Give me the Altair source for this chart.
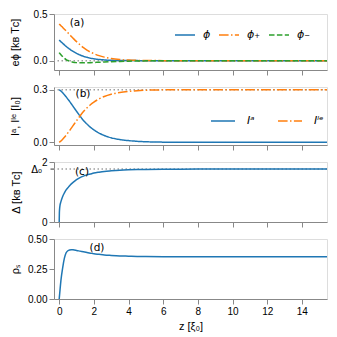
import altair as alt
import pandas as pd

# ---------------- data ----------------
z = [0, 0.01, 0.03, 0.05, 0.1, 0.2, 0.3, 0.4, 0.5, 0.6, 0.7, 0.8,
     1.0, 1.2, 1.4, 1.6, 1.8, 2.0,
     2.3, 2.6, 3.0, 3.5, 4.0, 4.5, 5.0,
     6.0, 7.0, 8.0, 10.0, 12.0, 14.0, 15.5]

phi = [0.221, 0.219, 0.215, 0.212, 0.203, 0.186, 0.169, 0.153, 0.138, 0.124, 0.111, 0.099,
       0.078, 0.061, 0.047, 0.036, 0.027, 0.020,
       0.013, 0.008, 0.004, 0.002, 0.001, 0.0005, 0.0002,
       0.0001, 0, 0, 0, 0, 0, 0]
phi_plus = [0.393, 0.391, 0.387, 0.384, 0.375, 0.356, 0.337, 0.318, 0.298, 0.279, 0.260, 0.241,
            0.204, 0.170, 0.139, 0.113, 0.092, 0.075,
            0.054, 0.038, 0.023, 0.012, 0.006, 0.003, 0.0015,
            0.0004, 0.0001, 0, 0, 0, 0, 0]
phi_minus = [0.087, 0.084, 0.079, 0.075, 0.064, 0.044, 0.026, 0.012, 0.002, -0.006, -0.012, -0.016,
             -0.021, -0.023, -0.023, -0.022, -0.021, -0.019,
             -0.017, -0.014, -0.011, -0.008, -0.005, -0.003, -0.002,
             -0.001, -0.0005, 0, 0, 0, 0, 0]

I_a = [0.300, 0.299, 0.297, 0.296, 0.292, 0.282, 0.271, 0.259, 0.246, 0.233, 0.219, 0.205,
       0.177, 0.150, 0.125, 0.104, 0.086, 0.071,
       0.053, 0.039, 0.026, 0.016, 0.010, 0.006, 0.0035,
       0.0012, 0.0004, 0.0001, 0, 0, 0, 0]
I_total = 0.3
I_le = [round(I_total - v, 5) for v in I_a]

Delta = [0, 0.30, 0.48, 0.57, 0.68, 0.85, 0.97, 1.07, 1.14, 1.21, 1.27, 1.32,
         1.41, 1.48, 1.53, 1.57, 1.60, 1.63,
         1.66, 1.685, 1.705, 1.725, 1.738, 1.747, 1.752,
         1.758, 1.761, 1.763, 1.764, 1.764, 1.764, 1.764]
Delta0 = 1.764

rho_s = [0, 0.016, 0.048, 0.08, 0.155, 0.26, 0.34, 0.385, 0.402, 0.409, 0.411, 0.410,
         0.405, 0.399, 0.393, 0.387, 0.382, 0.377,
         0.372, 0.367, 0.363, 0.359, 0.357, 0.355, 0.354,
         0.353, 0.352, 0.352, 0.352, 0.352, 0.352, 0.352]

phi_names = ["ϕ", "ϕ₊", "ϕ₋"]
I_names = ["Iᵃ", "Iˡᵉ"]
x_ticks = [0, 2, 4, 6, 8, 10, 12, 14]
delta_ticks = [0, 1, 2]
panel_labels = ["(a)", "(b)", "(c)", "(d)"]
delta0_label = "Δ₀"

# ---------------- style ----------------
FONT = "DejaVu Sans"
BLUE, ORANGE, GREEN = "#1f77b4", "#ff7f0e", "#2ca02c"
SOLID = [1, 0]
DASHDOT = [9.6, 2.4, 1.5, 2.4]
DASHED = [5.5, 2.4]
DOTTED = [1.5, 2.5]
W = 273
XDOM = [-0.3, 15.45]
TX = -39


def xenc(show):
    sc = alt.Scale(domain=XDOM, nice=False, zero=False)
    if show:
        ax = alt.Axis(values=x_ticks, format="d", title="z [ξ₀]", titleFontWeight="normal", grid=False)
    else:
        ax = alt.Axis(values=x_ticks, labels=False, title=None, grid=False)
    return alt.X("z:Q", scale=sc, axis=ax)


def yaxis(values, fmt, title, tx, **kw):
    return alt.Axis(values=values, format=fmt, title=title, titleFontWeight="normal", grid=False,
                    titleX=tx, titleBaseline="middle", labelOverlap=False, **kw)


def ref_rule(val):
    return alt.Chart(pd.DataFrame({"y": [val]})).mark_rule(
        color="#a0a0a0", strokeDash=DOTTED, strokeWidth=1.5
    ).encode(y="y:Q")


def label(txt, px, py):
    return alt.Chart(pd.DataFrame({"t": [txt]})).mark_text(
        font=FONT, fontSize=10.5, color="black"
    ).encode(text="t:N", x=alt.value(px), y=alt.value(py))


# panel (a)
df_a = pd.DataFrame({
    "z": z * 3,
    "v": phi + phi_plus + phi_minus,
    "s": [phi_names[0]] * len(z) + [phi_names[1]] * len(z) + [phi_names[2]] * len(z),
})
leg_a = alt.Legend(orient="none", legendX=120, legendY=10, direction="horizontal", title=None,
                   symbolType="stroke", symbolSize=400, symbolStrokeWidth=1.5,
                   labelFont=FONT, labelFontSize=11, labelFontStyle="italic",
                   labelOffset=7, columnPadding=5, gridAlign="none", labelColor="black")
lines_a = alt.Chart(df_a).mark_line(strokeWidth=1.5, interpolate="monotone", clip=True).encode(
    x=xenc(False),
    y=alt.Y("v:Q", scale=alt.Scale(domain=[-0.1, 0.5], nice=False),
            axis=yaxis([0.0, 0.5], ".1f", "eϕ [kʙ Tᴄ]", TX)),
    color=alt.Color("s:N", scale=alt.Scale(domain=phi_names, range=[BLUE, ORANGE, GREEN]), legend=leg_a),
    strokeDash=alt.StrokeDash("s:N", scale=alt.Scale(domain=phi_names, range=[SOLID, DASHDOT, DASHED]), legend=leg_a),
)
pa = alt.layer(ref_rule(0.0), lines_a, label(panel_labels[0], 23, 9)).properties(width=W, height=56)

# panel (b)
df_b = pd.DataFrame({
    "z": z * 2,
    "v": I_a + I_le,
    "s": [I_names[0]] * len(z) + [I_names[1]] * len(z),
})
leg_b = alt.Legend(orient="none", legendX=156, legendY=21, direction="horizontal", title=None,
                   symbolType="stroke", symbolSize=576, symbolStrokeWidth=1.5,
                   labelFont=FONT, labelFontSize=11, labelFontStyle="italic",
                   labelOffset=11, columnPadding=20, gridAlign="none", labelColor="black")
lines_b = alt.Chart(df_b).mark_line(strokeWidth=1.5, interpolate="monotone", clip=True).encode(
    x=xenc(False),
    y=alt.Y("v:Q", scale=alt.Scale(domain=[-0.015, 0.315], nice=False),
            axis=yaxis([0.0, 0.1, 0.2, 0.3], ".1f", "Iᵃ, Iˡᵉ [I₀]", TX)),
    color=alt.Color("s:N", scale=alt.Scale(domain=I_names, range=[BLUE, ORANGE]), legend=leg_b),
    strokeDash=alt.StrokeDash("s:N", scale=alt.Scale(domain=I_names, range=[SOLID, DASHDOT]), legend=leg_b),
)
pb = alt.layer(ref_rule(I_total), lines_b, label(panel_labels[1], 29, 7)).properties(width=W, height=58)

# panel (c)
df_c = pd.DataFrame({"z": z, "v": Delta})
yc_scale = alt.Scale(domain=[0, 2], nice=False)
yc_axis = yaxis(delta_ticks, "d", "Δ [kʙ Tᴄ]", TX + 1)
lines_c = alt.Chart(df_c).mark_line(strokeWidth=1.5, interpolate="monotone", color=BLUE, clip=True).encode(
    x=xenc(False),
    y=alt.Y("v:Q", scale=yc_scale, axis=yc_axis),
)
# extra tick + label for Delta_0 (same y scale and axis spec)
d0_tick = alt.Chart(pd.DataFrame({"v": [Delta0]})).mark_rule(
    color="black", strokeWidth=0.8, clip=False
).encode(y=alt.Y("v:Q", scale=yc_scale, axis=yc_axis), x=alt.value(-3.5), x2=alt.value(0))
d0_text = alt.Chart(pd.DataFrame({"v": [Delta0], "t": [delta0_label]})).mark_text(
    font=FONT, fontSize=10, color="black", align="right", baseline="middle", clip=False, dy=1
).encode(y=alt.Y("v:Q", scale=yc_scale, axis=yc_axis), x=alt.value(-12), text="t:N")
pc = alt.layer(ref_rule(Delta0), lines_c, d0_tick, d0_text, label(panel_labels[2], 28, 10)).properties(width=W, height=60)

# panel (d)
df_d = pd.DataFrame({"z": z, "v": rho_s})
lines_d = alt.Chart(df_d).mark_line(strokeWidth=1.5, interpolate="monotone", color=BLUE, clip=True).encode(
    x=xenc(True),
    y=alt.Y("v:Q", scale=alt.Scale(domain=[0, 0.5], nice=False),
            axis=yaxis([0, 0.25, 0.5], ".2f", "ρₛ", TX)),
)
pd_ = alt.layer(lines_d, label(panel_labels[3], 43, 9)).properties(width=W, height=60)

chart = alt.vconcat(pa, pb, pc, pd_, spacing=17, bounds="flush").resolve_scale(
    color="independent", strokeDash="independent"
).resolve_legend(color="independent", strokeDash="independent").properties(
    padding={"left": 0, "top": 0, "right": 0, "bottom": 0}
).configure_view(stroke="black", strokeWidth=1).configure_axis(
    domain=False, grid=False, ticks=True, tickColor="black", tickSize=3.5, tickWidth=0.8,
    labelFont=FONT, labelFontSize=10, labelColor="black", labelPadding=2,
    titleFont=FONT, titleFontSize=10, titleFontWeight="normal", titleColor="black", titlePadding=4,
).configure_axisX(grid=False).configure_axisY(grid=False).configure(background="white")

chart.save("out.html", embed_options={"renderer": "svg", "actions": False})
